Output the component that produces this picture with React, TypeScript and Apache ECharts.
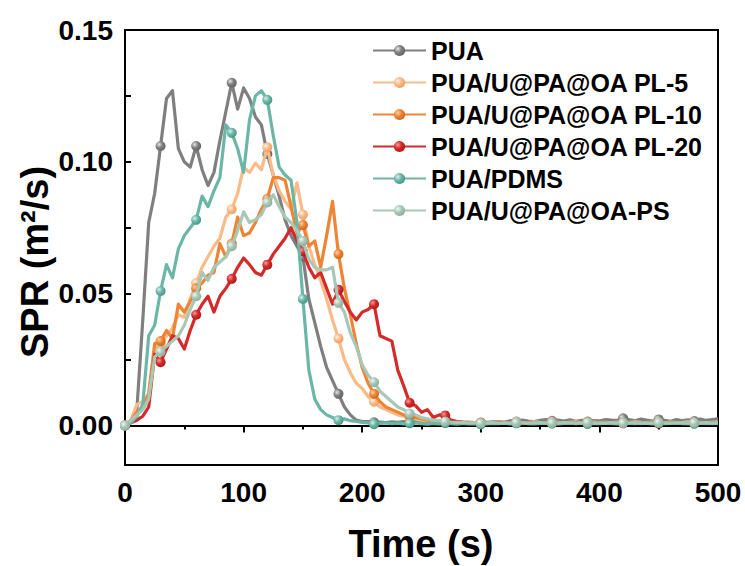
import React, { useEffect, useRef } from "react";
import * as echarts from "echarts";

const seriesNames = [
  "PUA",
  "PUA/U@PA@OA PL-5",
  "PUA/U@PA@OA PL-10",
  "PUA/U@PA@OA PL-20",
  "PUA/PDMS",
  "PUA/U@PA@OA-PS",
];

// sampling times (s)
const times = [
  0, 5, 10, 15, 20, 25, 30, 35, 40, 45,
  50, 55, 60, 65, 70, 75, 80, 85, 90, 95,
  100, 105, 110, 115, 120, 125, 130, 135, 140, 145,
  150, 155, 160, 165, 170, 175, 180, 185, 190, 195,
  200, 205, 210, 215, 220, 225, 230, 235, 240, 245,
  250, 255, 260, 265, 270, 275, 280, 285, 290, 295,
  300, 305, 310, 315, 320, 325, 330, 335, 340, 345,
  350, 355, 360, 365, 370, 375, 380, 385, 390, 395,
  400, 405, 410, 415, 420, 425, 430, 435, 440, 445,
  450, 455, 460, 465, 470, 475, 480, 485, 490, 495,
  500,
];

const puaValues = [
  0, 0.002, 0.006, 0.040, 0.077, 0.088, 0.106, 0.124, 0.127, 0.105,
  0.100, 0.098, 0.106, 0.097, 0.091, 0.096, 0.108, 0.119, 0.130, 0.120,
  0.128, 0.124, 0.117, 0.114, 0.103, 0.095, 0.087, 0.078, 0.072, 0.068,
  0.064, 0.048, 0.039, 0.030, 0.022, 0.017, 0.012, 0.007, 0.004, 0.002,
  0.0015, 0.0015, 0.0012, 0.0013, 0.0011, 0.0014, 0.0012, 0.0015, 0.0013, 0.0016,
  0.0012, 0.0014, 0.0011, 0.0013, 0.0015, 0.0012, 0.0014, 0.0013, 0.0012, 0.0011,
  0.0010, 0.0012, 0.0014, 0.0015, 0.0013, 0.0018, 0.0015, 0.0020, 0.0017, 0.0015,
  0.0019, 0.0022, 0.0018, 0.0020, 0.0017, 0.0021, 0.0016, 0.0019, 0.0015, 0.0018,
  0.0017, 0.0022, 0.0020, 0.0019, 0.0027, 0.0022, 0.0018, 0.0024, 0.0020, 0.0017,
  0.0023, 0.0019, 0.0016, 0.0022, 0.0018, 0.0021, 0.0017, 0.0024, 0.0019, 0.0022,
  0.0025,
];

const pl5Values = [
  0, 0.002, 0.008, 0.009, 0.012, 0.029, 0.031, 0.034, 0.037, 0.042,
  0.041, 0.048, 0.054, 0.060, 0.064, 0.068, 0.071, 0.079, 0.082, 0.088,
  0.098, 0.096, 0.0995, 0.097, 0.1055, 0.095, 0.089, 0.085, 0.082, 0.092,
  0.080, 0.068, 0.061, 0.055, 0.048, 0.040, 0.033, 0.025, 0.020, 0.016,
  0.014, 0.011, 0.009, 0.007, 0.006, 0.005, 0.004, 0.0035, 0.003, 0.0025,
  0.002, 0.0018, 0.0015, 0.0016, 0.0013, 0.0014, 0.0012, 0.0013, 0.0011, 0.0012,
  0.0010, 0.0012, 0.0011, 0.0013, 0.0012, 0.0010, 0.0013, 0.0011, 0.0012, 0.0014,
  0.0012, 0.0011, 0.0013, 0.0012, 0.0010, 0.0012, 0.0014, 0.0011, 0.0012, 0.0013,
  0.0011, 0.0012, 0.0010, 0.0013, 0.0012, 0.0011, 0.0014, 0.0012, 0.0011, 0.0013,
  0.0012, 0.0010, 0.0013, 0.0011, 0.0012, 0.0014, 0.0011, 0.0012, 0.0010, 0.0012,
  0.0013,
];

const pl10Values = [
  0, 0.002, 0.005, 0.007, 0.012, 0.031, 0.032, 0.036, 0.033, 0.046,
  0.043, 0.047, 0.052, 0.054, 0.057, 0.058, 0.069, 0.064, 0.069, 0.079,
  0.072, 0.073, 0.077, 0.082, 0.086, 0.094, 0.094, 0.093, 0.083, 0.073,
  0.076, 0.068, 0.070, 0.060, 0.072, 0.085, 0.065, 0.052, 0.042, 0.031,
  0.022, 0.016, 0.012, 0.009, 0.007, 0.006, 0.005, 0.004, 0.0035, 0.003,
  0.0025, 0.002, 0.0018, 0.0015, 0.0014, 0.0013, 0.0012, 0.0011, 0.0012, 0.0010,
  0.0011, 0.0009, 0.0010, 0.0012, 0.0010, 0.0011, 0.0009, 0.0010, 0.0011, 0.0009,
  0.0010, 0.0012, 0.0009, 0.0011, 0.0010, 0.0009, 0.0011, 0.0010, 0.0012, 0.0010,
  0.0009, 0.0011, 0.0010, 0.0012, 0.0009, 0.0010, 0.0011, 0.0009, 0.0010, 0.0011,
  0.0010, 0.0009, 0.0011, 0.0010, 0.0012, 0.0009, 0.0010, 0.0011, 0.0009, 0.0010,
  0.0011,
];

const pl20Values = [
  0, 0.001, 0.002, 0.0035, 0.007, 0.027, 0.024, 0.029, 0.034, 0.033,
  0.029, 0.036, 0.042, 0.046, 0.049, 0.043, 0.049, 0.052, 0.0556, 0.060,
  0.0635, 0.061, 0.058, 0.057, 0.061, 0.065, 0.068, 0.071, 0.075, 0.070,
  0.066, 0.060, 0.056, 0.058, 0.052, 0.046, 0.0515, 0.047, 0.043, 0.040,
  0.043, 0.044, 0.046, 0.034, 0.033, 0.032, 0.021, 0.015, 0.0086, 0.0075,
  0.005, 0.006, 0.003, 0.004, 0.0038, 0.002, 0.0015, 0.0012, 0.0010, 0.0011,
  0.0009, 0.0010, 0.0008, 0.0009, 0.0010, 0.0008, 0.0009, 0.0007, 0.0009, 0.0008,
  0.0010, 0.0008, 0.0009, 0.0007, 0.0008, 0.0009, 0.0008, 0.0010, 0.0007, 0.0008,
  0.0009, 0.0008, 0.0007, 0.0009, 0.0008, 0.0010, 0.0008, 0.0007, 0.0009, 0.0008,
  0.0007, 0.0009, 0.0008, 0.0010, 0.0008, 0.0007, 0.0009, 0.0008, 0.0007, 0.0009,
  0.0008,
];

const pdmsValues = [
  0, 0.001, 0.0035, 0.008, 0.034, 0.038, 0.051, 0.061, 0.056, 0.067,
  0.072, 0.075, 0.078, 0.087, 0.083, 0.089, 0.094, 0.114, 0.111, 0.105,
  0.096, 0.116, 0.125, 0.127, 0.1235, 0.110, 0.098, 0.095, 0.093, 0.077,
  0.048, 0.021, 0.010, 0.006, 0.004, 0.003, 0.002, 0.0025, 0.0018, 0.0015,
  0.0012, 0.0010, 0.0005, 0.0008, 0.0010, 0.0007, 0.0009, 0.0006, 0.0008, 0.0010,
  0.0007, 0.0005, 0.0008, 0.0006, 0.0009, 0.0007, 0.0005, 0.0008, 0.0006, 0.0007,
  0.0004, 0.0006, 0.0008, 0.0007, 0.0009, 0.0006, 0.0008, 0.0010, 0.0007, 0.0006,
  0.0008, 0.0009, 0.0007, 0.0006, 0.0008, 0.0010, 0.0007, 0.0009, 0.0006, 0.0008,
  0.0007, 0.0009, 0.0008, 0.0006, 0.0010, 0.0008, 0.0007, 0.0009, 0.0008, 0.0006,
  0.0009, 0.0007, 0.0008, 0.0010, 0.0007, 0.0008, 0.0006, 0.0009, 0.0008, 0.0007,
  0.0008,
];

const psValues = [
  0, 0.002, 0.004, 0.006, 0.010, 0.026, 0.028, 0.030, 0.032, 0.034,
  0.038, 0.044, 0.049, 0.058, 0.055, 0.060, 0.062, 0.064, 0.068, 0.074,
  0.081, 0.077, 0.078, 0.080, 0.0846, 0.0875, 0.083, 0.079, 0.077, 0.074,
  0.070, 0.063, 0.060, 0.059, 0.059, 0.060, 0.0465, 0.043, 0.035, 0.030,
  0.023, 0.019, 0.0164, 0.013, 0.011, 0.009, 0.007, 0.006, 0.0045, 0.004,
  0.003, 0.0025, 0.002, 0.0018, 0.0015, 0.0013, 0.0012, 0.0011, 0.0010, 0.0011,
  0.0009, 0.0010, 0.0011, 0.0009, 0.0010, 0.0009, 0.0011, 0.0010, 0.0009, 0.0010,
  0.0011, 0.0009, 0.0010, 0.0009, 0.0011, 0.0010, 0.0009, 0.0010, 0.0011, 0.0009,
  0.0010, 0.0009, 0.0011, 0.0010, 0.0009, 0.0010, 0.0011, 0.0009, 0.0010, 0.0009,
  0.0011, 0.0010, 0.0009, 0.0010, 0.0011, 0.0009, 0.0010, 0.0009, 0.0011, 0.0010,
  0.0010,
];

const seriesValues = [puaValues, pl5Values, pl10Values, pl20Values, pdmsValues, psValues];

const yLabelValues = [0, 0.05, 0.1, 0.15];
const yTickValues = [0, 0.025, 0.05, 0.075, 0.1, 0.125, 0.15];

// styling
const lineColors = ["#7f7f7f", "#f9bb88", "#ee8434", "#d42a2a", "#6bb6a7", "#a8c8b7"];
const ballLight = ["#e6e6e6", "#fff0e0", "#ffd2a8", "#ff9a9a", "#d6f0ea", "#eef6f1"];
const ballDark = ["#5e5e5e", "#e89a5c", "#c8621a", "#a81818", "#3f9080", "#86aa96"];

const FONT = 'Arial, "Liberation Sans", Helvetica, sans-serif';
const MARKER_EVERY = 6;

export default function App() {
  const ref = useRef<HTMLDivElement>(null);

  useEffect(() => {
    if (!ref.current) return;
    const chart = echarts.init(ref.current, null, { renderer: "svg" });

    const series = seriesNames.map((name, s) => {
      const vals = seriesValues[s];
      const n = Math.min(vals.length, times.length);
      const data = [];
      for (let i = 0; i < n; i++) {
        if (i % MARKER_EVERY === 0) data.push({ value: [times[i], vals[i]] });
        else data.push({ value: [times[i], vals[i]], symbol: "none" });
      }
      return {
        name,
        type: "line",
        data,
        symbol: "circle",
        symbolSize: 10,
        showAllSymbol: true,
        lineStyle: { color: lineColors[s], width: 3.2, join: "round" },
        itemStyle: {
          color: {
            type: "radial",
            x: 0.35,
            y: 0.35,
            r: 0.75,
            colorStops: [
              { offset: 0, color: ballLight[s] },
              { offset: 0.45, color: lineColors[s] },
              { offset: 1, color: ballDark[s] },
            ],
          },
          borderWidth: 0,
        },
        emphasis: { disabled: true },
        z: 2 + s,
      };
    });

    chart.setOption({
      animation: false,
      backgroundColor: "#ffffff",
      grid: {
        left: 125,
        right: 27,
        top: 30,
        bottom: 101,
        show: true,
        borderColor: "#000",
        borderWidth: 2,
        backgroundColor: "transparent",
      },
      legend: {
        data: seriesNames,
        orient: "vertical",
        left: 372,
        top: 38,
        itemWidth: 53,
        itemHeight: 14,
        itemGap: 7,
        padding: 0,
        textStyle: {
          fontFamily: FONT,
          fontSize: 25,
          fontWeight: "bold",
          color: "#000",
          lineHeight: 25,
        },
      },
      xAxis: {
        type: "value",
        min: 0,
        max: 500,
        interval: 100,
        axisLine: { show: true, lineStyle: { color: "#000", width: 2 } },
        axisTick: { show: true, inside: false, length: 7, lineStyle: { color: "#000", width: 2 } },
        minorTick: { show: true, splitNumber: 2, length: 4, lineStyle: { color: "#000", width: 2 } },
        splitLine: { show: false },
        minorSplitLine: { show: false },
        axisLabel: {
          margin: 13,
          fontFamily: FONT,
          fontSize: 28,
          fontWeight: "bold",
          color: "#000",
        },
      },
      yAxis: {
        type: "value",
        min: -0.015,
        max: 0.15,
        axisLine: { show: true, lineStyle: { color: "#000", width: 2 } },
        axisTick: {
          show: true,
          inside: true,
          length: 6,
          customValues: yTickValues,
          lineStyle: { color: "#000", width: 2 },
        },
        splitLine: { show: false },
        axisLabel: {
          margin: 12,
          customValues: yLabelValues,
          formatter: (v: number) => v.toFixed(2),
          fontFamily: FONT,
          fontSize: 28,
          fontWeight: "bold",
          color: "#000",
        },
      },
      graphic: [
        {
          type: "text",
          x: 421,
          y: 544,
          style: {
            text: "Time (s)",
            font: `bold 38px ${FONT}`,
            fill: "#000",
            textAlign: "center",
            textVerticalAlign: "middle",
          },
        },
        {
          type: "text",
          x: 35,
          y: 262,
          rotation: Math.PI / 2,
          style: {
            text: "SPR (m²/s)",
            font: `bold 38px ${FONT}`,
            fill: "#000",
            textAlign: "center",
            textVerticalAlign: "middle",
          },
        },
      ],
      series,
    });

    return () => chart.dispose();
  }, []);

  return <div ref={ref} style={{ width: 745, height: 566, position: "absolute", left: 0, top: 0 }} />;
}
